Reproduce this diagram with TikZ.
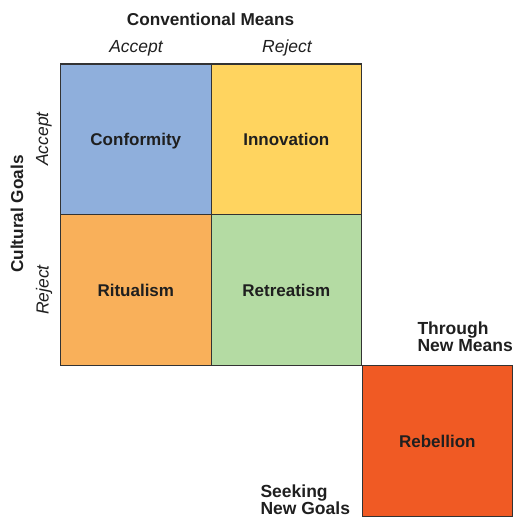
\documentclass[tikz,border=0pt]{standalone}
\usepackage{fontspec}
\setmainfont{Liberation Sans}
\begin{document}
\begin{tikzpicture}[x=1pt,y=-1pt,
  cell/.style={draw=black!80, line width=1.1pt, minimum width=150.5pt, minimum height=151pt, inner sep=0pt, anchor=north west, font=\bfseries\fontsize{17}{19}\selectfont, text=black!88, text height=12pt, text depth=0pt},
  head/.style={font=\bfseries\fontsize{17.2}{19}\selectfont, text=black!88},
  sub/.style={font=\itshape\fontsize{17.5}{19}\selectfont, text=black!88},
  side/.style={font=\bfseries\fontsize{17.5}{19}\selectfont, text=black!88, align=left, anchor=west}]
\useasboundingbox (0,0) rectangle (514,518);
\definecolor{cblue}{HTML}{8FAFDC}
\definecolor{cyellow}{HTML}{FFD45F}
\definecolor{corange}{HTML}{F9B05A}
\definecolor{cgreen}{HTML}{B4DBA3}
\definecolor{cred}{HTML}{F05A24}
\node[cell, fill=cblue] (conf) at (60,63.5) {Conformity};
\node[cell, fill=cyellow] (inno) at (210.5,63.5) {Innovation};
\node[cell, fill=corange] (ritu) at (60,214) {Ritualism};
\node[cell, fill=cgreen] (retr) at (210.5,214) {Retreatism};
\node[cell, fill=cred] (rebe) at (361.5,365) {Rebellion};
\node[head] (cm) at (210.5,19) {Conventional Means};
\node[sub] (ca) at (136,48) {Accept};
\node[sub] (cr) at (287,48) {Reject};
\node[sub, rotate=90] (ga) at (44,139) {Accept};
\node[sub, rotate=90] (gr) at (44,290) {Reject};
\node[head, rotate=90] (cg) at (17,214) {Cultural Goals};
\node[side] (tnm) at (414,336.5) {Through\\[-2pt]New Means};
\node[side] (sng) at (257,500) {Seeking\\[-2pt]New Goals};
\end{tikzpicture}
\end{document}
